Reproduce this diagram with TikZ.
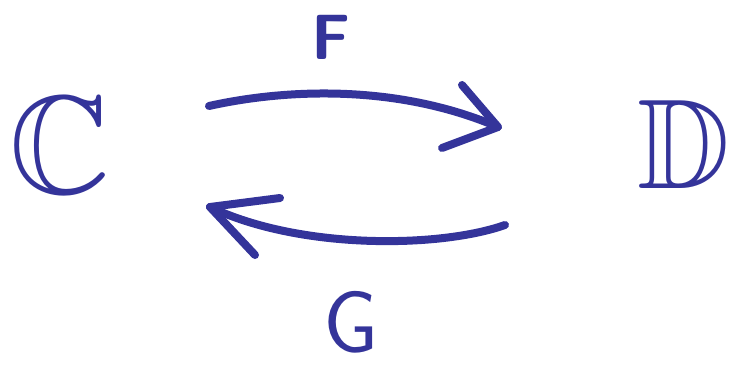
\documentclass[tikz,border=0pt]{standalone}
\usepackage{amssymb}
\definecolor{ink}{HTML}{34349A}
\tikzset{
  stroke/.style={draw=ink, line width=8pt, line cap=round, line join=round},
  letter/.style={text=ink, inner sep=0pt, anchor=center}
}
\begin{document}
\begin{tikzpicture}[x=1pt,y=-1pt]
\useasboundingbox (0,0) rectangle (731,367);
% objects
\node[letter, font=\fontsize{140}{140}\selectfont] (C) at (60,145) {$\mathbb{C}$};
\node[letter, font=\fontsize{128}{128}\selectfont] (D) at (684,144) {$\mathbb{D}$};
% labels
\node[letter, font=\sffamily\bfseries\fontsize{64}{64}\selectfont] (F) at (331,37) {F};
\node[letter, font=\sffamily\fontsize{88}{88}\selectfont] (G) at (351,322) {G};
% connector endpoints
\coordinate (fs) at (209,106);
\coordinate (ft) at (498,127);
\coordinate (gs) at (505,225);
\coordinate (gt) at (210,207);
% F : C -> D
\draw[stroke] (fs) .. controls (290,88) and (400,85) .. (ft);
\draw[stroke] (462,85) -- (ft) -- (442,148);
% G : D -> C
\draw[stroke] (gs) .. controls (440,248) and (300,250) .. (gt);
\draw[stroke] (280,198) -- (gt) -- (255,255);
\end{tikzpicture}
\end{document}
